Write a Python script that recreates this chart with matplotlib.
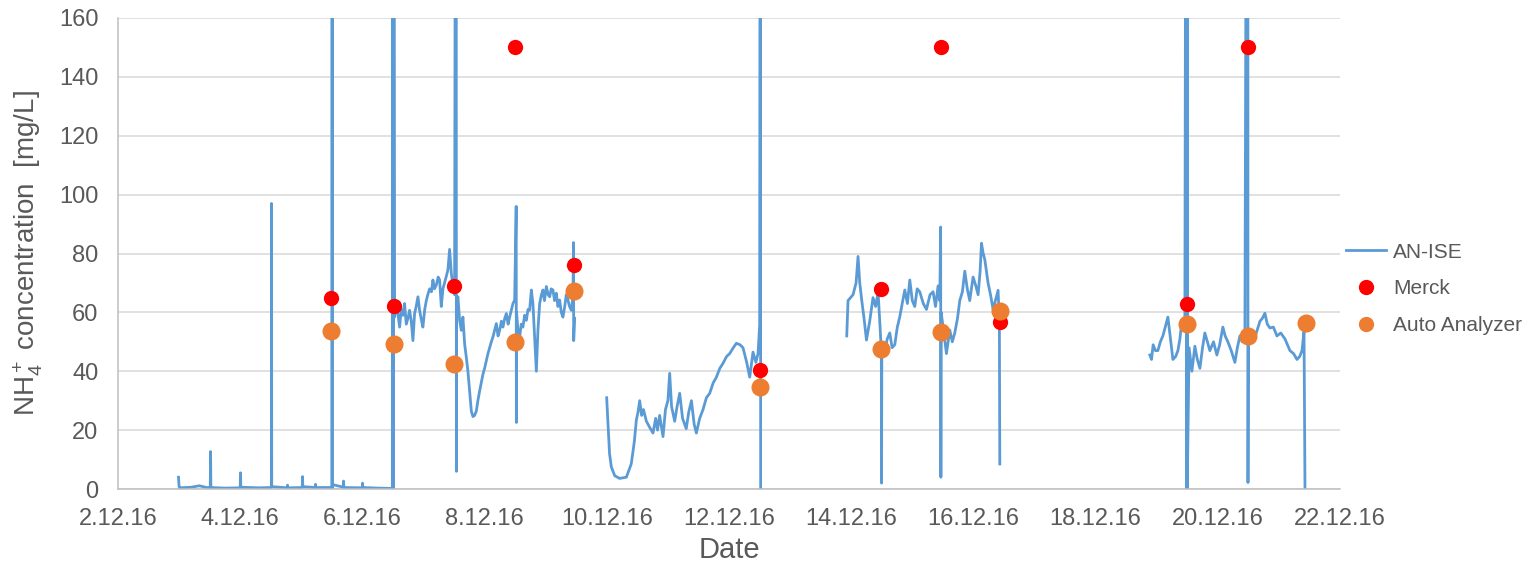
import matplotlib
matplotlib.use("Agg")
from matplotlib import pyplot as plt
from matplotlib.lines import Line2D
import matplotlib.dates as mdates
import numpy as np
import pandas as pd

plt.rcParams['font.family'] = ['Liberation Sans', 'DejaVu Sans']
plt.rcParams['mathtext.fontset'] = 'custom'
plt.rcParams['mathtext.rm'] = 'Liberation Sans'
plt.rcParams['mathtext.it'] = 'Liberation Sans:italic'

# AN-ISE readings, day of December 2016 (fractional) and mg/L
# sensor segments are separated by gaps
ise1_day = [2.99, 3.00, 3.01, 3.20, 3.33, 3.45, 3.51, 3.515, 3.52, 3.75, 4.00, 4.005, 4.01,
            4.30, 4.51, 4.513, 4.516, 4.77, 4.775, 4.78, 5.015, 5.02, 5.025, 5.23, 5.233,
            5.236, 5.50, 5.505, 5.508, 5.511, 5.69, 5.692, 5.695, 6.00, 6.003, 6.006, 6.25,
            6.49, 6.492, 6.495, 6.498, 6.502, 6.505, 6.508, 6.512,
            6.527, 6.55, 6.581, 6.609, 6.635, 6.663, 6.69, 6.718, 6.745, 6.772, 6.80, 6.827,
            6.854, 6.88, 6.909, 6.936, 6.96, 6.990, 7.02, 7.046, 7.07, 7.100, 7.13, 7.154,
            7.18, 7.210, 7.24, 7.264, 7.291, 7.318, 7.345, 7.373, 7.400, 7.427, 7.455, 7.481,
            7.509, 7.535, 7.538, 7.541, 7.563, 7.591, 7.619, 7.645, 7.673, 7.701, 7.727,
            7.755, 7.783, 7.809, 7.835, 7.864, 7.89, 7.918, 7.945, 7.973, 8.00, 8.028, 8.055,
            8.082, 8.11, 8.136, 8.165, 8.192, 8.22, 8.246, 8.275, 8.300, 8.33, 8.356, 8.385,
            8.410, 8.44, 8.464, 8.492, 8.517, 8.520, 8.523, 8.546, 8.573, 8.60, 8.627, 8.655,
            8.683, 8.71, 8.737, 8.765, 8.791, 8.819, 8.847, 8.873, 8.901, 8.93, 8.955, 8.98,
            9.011, 9.04, 9.065, 9.09, 9.119, 9.145, 9.174, 9.20, 9.228, 9.255, 9.282, 9.310,
            9.337, 9.364, 9.39, 9.420, 9.446, 9.455, 9.458, 9.474]
ise1_val = [4.0, 0.8, 0.4, 0.6, 1.1, 0.5, 0.5, 12.7, 0.5, 0.3, 0.4, 5.5, 0.6,
            0.4, 0.5, 97, 0.8, 0.4, 1.3, 0.4, 0.5, 4.2, 0.8, 0.5, 1.6,
            0.5, 0.5, 400, 0, 1.5, 0.6, 2.7, 0.5, 0.4, 2.0, 0.5, 0.3,
            0.2, 400, 0, 400, 0, 400, 0.5, 400,
            58.4, 62, 59.6, 55, 61, 59, 63, 56, 58, 60.7, 57, 50.4,
            59.6, 62, 65.3, 60.7, 58, 55, 61, 64, 66, 68, 67, 71,
            68, 69.3, 72, 71, 62, 68, 70, 72.2, 74.5, 81.4, 73.4, 68.8,
            66, 400, 6, 62, 65.3, 57.3, 53.9, 58.4, 49.3, 44.7, 40,
            33.2, 26.4, 24.6, 25, 26.4, 30, 33.2, 36, 39, 41, 43.6, 46,
            48, 50, 51.6, 54, 56.2, 52, 53.9, 57, 55, 58, 59.6, 56,
            58.4, 61, 63, 64.2, 96, 22.6, 60, 53.9, 51.6, 56, 55, 59,
            57.3, 61, 60.7, 67.6, 63, 51.6, 40, 53.9, 63, 66, 67.6, 64,
            68.8, 66, 65.3, 68, 67.6, 64, 66.5, 62, 64.2, 60, 58.4, 61.8,
            66, 64.2, 62, 60.7, 65.3, 83.7, 50.4, 58]

ise2_day = [9.998, 10.02, 10.045, 10.074, 10.13, 10.21, 10.32, 10.40, 10.45, 10.484, 10.51,
            10.538, 10.57, 10.60, 10.648, 10.70, 10.756, 10.80, 10.83, 10.865, 10.92, 10.96,
            11.00, 11.029, 11.06, 11.111, 11.15, 11.193, 11.24, 11.30, 11.34, 11.385, 11.43,
            11.466, 11.52, 11.575, 11.63, 11.684, 11.74, 11.794, 11.85, 11.902, 11.96, 12.011,
            12.07, 12.121, 12.18, 12.229, 12.29, 12.339, 12.393, 12.44, 12.475, 12.502,
            12.515, 12.518]
ise2_val = [31, 22, 12, 7.5, 4.5, 3.6, 4, 8.5, 16, 23.5, 26,
            30, 25, 27, 23, 21, 19, 24, 20, 25, 17.8, 27,
            30, 39.3, 28, 23, 28, 32.5, 24, 20.5, 26, 30, 22,
            19, 24, 27, 31, 32.5, 36, 38, 41, 42.7, 45, 46,
            48, 49.5, 49, 48, 43, 38, 46.5, 43, 46, 55.7,
            400, 0]

ise3_day = [13.927, 13.948, 14.03, 14.08, 14.112, 14.14, 14.173, 14.21, 14.25, 14.303, 14.357,
            14.40, 14.44, 14.47, 14.493, 14.497, 14.501, 14.549, 14.59, 14.631, 14.67, 14.713,
            14.755, 14.795, 14.835, 14.877, 14.92, 14.959, 15.00, 15.04, 15.08, 15.122, 15.18,
            15.232, 15.29, 15.34, 15.38, 15.422, 15.45, 15.464, 15.468, 15.472, 15.504, 15.559,
            15.613, 15.655, 15.695, 15.74, 15.777, 15.82, 15.859, 15.90, 15.94, 15.995, 16.04,
            16.077, 16.11, 16.132, 16.16, 16.186, 16.24, 16.28, 16.322, 16.36, 16.404, 16.425,
            16.432]
ise3_val = [52, 64, 66, 70, 79, 70, 64, 58, 50.6, 57, 65,
            62, 66.8, 56, 47, 2, 47, 47, 51, 53, 48, 49,
            55, 58.5, 63, 67.6, 63, 71, 64, 62, 68, 67, 63,
            61, 66, 67, 62, 69, 64, 89, 4, 60, 55, 46,
            54, 50, 53, 58, 64, 67, 74, 68, 64, 72, 69,
            66, 74, 83.5, 80, 78, 70, 66, 61, 64, 67.5, 57,
            8.5]

ise4_day = [18.888, 18.915, 18.942, 18.98, 19.019, 19.06, 19.101, 19.14, 19.183, 19.22, 19.265,
            19.31, 19.347, 19.38, 19.412, 19.461, 19.49, 19.493, 19.497, 19.50, 19.53, 19.576,
            19.625, 19.665, 19.707, 19.75, 19.788, 19.83, 19.870, 19.93, 19.985, 20.03, 20.083,
            20.12, 20.165, 20.22, 20.280, 20.32, 20.362, 20.40, 20.444, 20.49, 20.494, 20.50,
            20.575, 20.63, 20.690, 20.73, 20.771, 20.81, 20.853, 20.91, 20.968, 21.03, 21.099,
            21.14, 21.181, 21.24, 21.296, 21.34, 21.378, 21.411, 21.427]
ise4_val = [45.5, 44, 49, 47, 47, 50, 52, 55, 58.4, 52, 44,
            45, 47, 51, 57, 56, 400, 0, 400, 0, 48, 40,
            48.5, 44, 41, 48, 53, 50, 47, 50, 45.5, 49, 55,
            52, 50, 47, 43, 48, 52, 50, 53.5, 400, 2.2, 52,
            50, 53, 57, 58, 59.7, 56, 54.7, 55, 52, 53, 51,
            49, 47, 46, 44, 45, 47, 53.5, 0]

# grab samples
merck_day = [5.479, 6.510, 7.498, 8.492, 9.458, 12.511, 14.484, 15.466, 16.432, 19.494, 20.493]
merck_val = [65, 62, 69, 150, 76, 40.4, 68, 150, 56.8, 63, 150]
aa_day = [5.479, 6.510, 7.498, 8.492, 9.458, 12.511, 14.484, 15.466, 16.432, 19.494, 20.493,
          21.443]
aa_val = [53.8, 49.3, 42.5, 50, 67.3, 34.8, 47.4, 53.4, 60.6, 56, 52, 56.3]


def to_time(days):
    return pd.Timestamp("2016-12-01") + pd.to_timedelta(np.asarray(days) - 1, unit="D")


blue = "#5B9BD5"
red = "#FF0000"
orange = "#ED7D31"
grey = "#595959"

fig = plt.figure(figsize=(15.27, 5.70), dpi=100)
ax = fig.add_axes([118 / 1527, 1 - 489 / 570, 1222 / 1527, 471 / 570])

for d, v in [(ise1_day, ise1_val), (ise2_day, ise2_val), (ise3_day, ise3_val), (ise4_day, ise4_val)]:
    ax.plot(to_time(d), v, color=blue, lw=2.0, zorder=2)

ax.plot(to_time(merck_day), merck_val, "o", color=red, ms=11, mec="none", zorder=3)
ax.plot(to_time(aa_day), aa_val, "o", color=orange, ms=13, mec="none", zorder=4)

ax.set_ylim(0, 160)
ax.set_yticks(range(0, 161, 20))
ax.set_xlim(to_time([2])[0], to_time([22])[0])
ax.xaxis.set_major_locator(mdates.DayLocator(bymonthday=range(2, 23, 2)))
ax.xaxis.set_major_formatter(plt.FuncFormatter(
    lambda x, p: "{}.{}.{}".format(mdates.num2date(x).day, mdates.num2date(x).month,
                                   mdates.num2date(x).strftime("%y"))))

ax.yaxis.grid(True, color="#D9D9D9", lw=1.1)
ax.set_axisbelow(True)
for s in ["top", "right"]:
    ax.spines[s].set_visible(False)
for s in ["left", "bottom"]:
    ax.spines[s].set_color("#BFBFBF")
    ax.spines[s].set_linewidth(1.1)
ax.tick_params(length=0, labelsize=17, labelcolor=grey, pad=14)

ax.set_xlabel("Date", fontsize=21, color=grey, labelpad=4)
ax.set_ylabel("NH$_4^+$ concentration  [mg/L]", fontsize=20, color=grey, labelpad=10)

handles = [Line2D([], [], color=blue, lw=2.0),
           Line2D([], [], ls="none", marker="o", color=red, ms=11, mec="none"),
           Line2D([], [], ls="none", marker="o", color=orange, ms=11, mec="none")]
ax.legend(handles, ["AN-ISE", "Merck", "Auto Analyzer"], loc="center left",
          bbox_to_anchor=(1.005, 0.425), frameon=False, fontsize=15, labelcolor=grey,
          handlelength=1.9, handletextpad=0.35, labelspacing=0.85, borderpad=0,
          borderaxespad=0)

fig.savefig("out.png", dpi=100)
